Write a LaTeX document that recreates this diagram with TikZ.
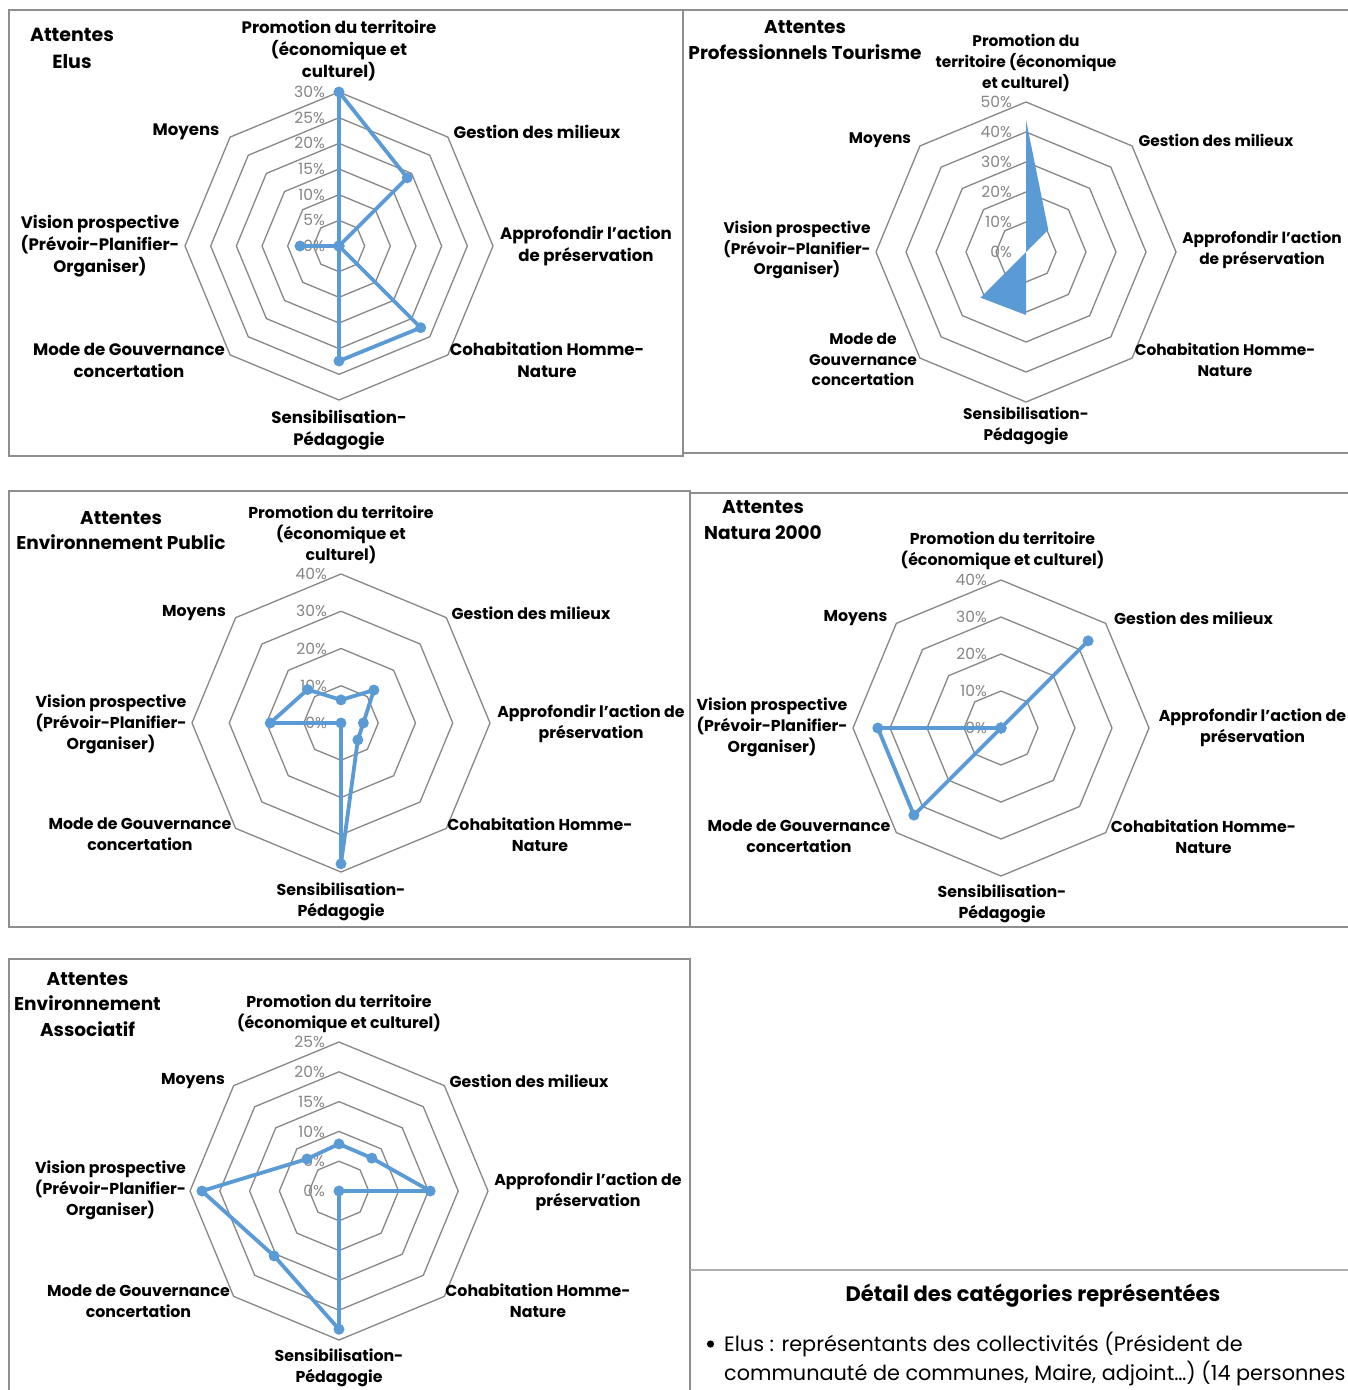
\documentclass[tikz,border=0pt]{standalone}
\usepackage{fontspec}
\setmainfont{Poppins}
\definecolor{series}{HTML}{5B9BD5}
\definecolor{gridc}{HTML}{878787}
\definecolor{framec}{HTML}{8E8E8E}
\definecolor{tickc}{HTML}{858585}
\tikzset{
  x=1pt, y=-1pt,
  gridline/.style={draw=gridc, line width=1.3pt, line join=miter},
  serie/.style={draw=series, line width=3.8pt, line join=round},
  seriefill/.style={fill=series},
  dot/.style={fill=series},
  framebox/.style={draw=framec, line width=1.5pt},
  ticklabel/.style={text=tickc, inner sep=0pt, anchor=east, font=\fontsize{15.5}{15.5}\selectfont},
  axislabel/.style={font=\bfseries\fontsize{16.6}{22}\selectfont, align=center, inner sep=0pt},
  axissmall/.style={font=\bfseries\fontsize{15.8}{21}\selectfont, align=center, inner sep=0pt},
  charttitle/.style={font=\bfseries\fontsize{18.5}{26}\selectfont, align=center, inner sep=0pt},
}
% concentric octagons: #1 cx, #2 cy, #3 outer radius, #4 number of rings
\newcommand\webgrid[4]{%
  \foreach \ri in {1,...,#4}{
    \draw[gridline] ({#1},{#2-#3*\ri/#4})
      \foreach \kk in {1,...,7}{ -- ({#1+#3*\ri/#4*sin(45*\kk)},{#2-#3*\ri/#4*cos(45*\kk)}) } -- cycle;
  }
}
% scale labels: #1 cx, #2 cy, #3 outer radius, #4 number of rings, #5 values
\newcommand\webticks[5]{%
  \foreach \tv [count=\ri from 0] in {#5}{
    \node[ticklabel] at ({#1-14},{#2-#3*\ri/#4}) {\tv\%};
  }
}
% data points: #1 name, #2 cx, #3 cy, #4 outer radius, #5 max value, #6 eight values
\newcommand\webpoints[6]{%
  \foreach \val [count=\kk from 0] in {#6}{
    \coordinate (#1-\kk) at ({#2+#4*\val/#5*sin(45*\kk)},{#3-#4*\val/#5*cos(45*\kk)});
  }
}
\newcommand\webline[1]{%
  \draw[serie] (#1-0) -- (#1-1) -- (#1-2) -- (#1-3) -- (#1-4) -- (#1-5) -- (#1-6) -- (#1-7) -- cycle;
  \foreach \kk in {0,...,7}{ \fill[dot] (#1-\kk) circle (5.5); }
}
\begin{document}
\begin{tikzpicture}
\useasboundingbox (0,0) rectangle (1348,1390);
\fill[white] (0,0) rectangle (1348,1390);

% ---------- frames ----------
\draw[framebox] (9,10) rectangle (683,456);
\draw[framebox] (683,10) rectangle (1360,453);
\draw[framebox] (9,491) rectangle (690,927);
\draw[framebox] (690,493) rectangle (1360,927);
\draw[framebox] (9,959) rectangle (690,1400);
\draw[framebox, draw=framec!70] (690,1270) -- (1360,1270);

% ---------- Elus ----------
\webgrid{339}{246}{154}{6}
\webticks{339}{246}{154}{6}{0,5,10,15,20,25,30}
\webpoints{el}{339}{246}{154}{30}{30,18.8,0,22.5,22.4,0,7.6,0}
\webline{el}
\node[charttitle, font=\bfseries\fontsize{19}{27}\selectfont] (elT) at (72,48.5) {Attentes\\Elus};
\node[axislabel] (elP) at (339,51) {Promotion du territoire\\(économique et\\culturel)};
\node[axislabel] (elG) at (537,132) {Gestion des milieux};
\node[axislabel] (elA) at (586,246) {Approfondir l'action\\de préservation};
\node[axislabel] (elC) at (547,360) {Cohabitation Homme-\\Nature};
\node[axislabel] (elS) at (339,430) {Sensibilisation-\\Pédagogie};
\node[axislabel] (elM) at (129,360) {Mode de Gouvernance\\concertation};
\node[axislabel] (elV) at (100,246) {Vision prospective\\(Prévoir-Planifier-\\Organiser)};
\node[axislabel] (elY) at (186,132) {Moyens};

% ---------- Professionnels Tourisme ----------
\webgrid{1026}{252}{150}{5}
\webticks{1026}{252}{150}{5}{0,10,20,30,40,50}
\webpoints{pt}{1026}{252}{150}{50}{44,10.5,0,0,21,21.5,0,0}
\fill[seriefill] (pt-0) -- (pt-1) -- (pt-2) -- (pt-3) -- (pt-4) -- (pt-5) -- (pt-6) -- (pt-7) -- cycle;
\node[charttitle] (ptT) at (805,40) {Attentes\\Professionnels Tourisme};
\node[axissmall, font=\bfseries\fontsize{15.4}{21}\selectfont] (ptP) at (1026,63) {Promotion du\\territoire (économique\\et culturel)};
\node[axissmall, font=\bfseries\fontsize{15.4}{21}\selectfont] (ptG) at (1216,140) {Gestion des milieux};
\node[axissmall, font=\bfseries\fontsize{15.4}{21}\selectfont] (ptA) at (1262,250) {Approfondir l'action\\de préservation};
\node[axissmall, font=\bfseries\fontsize{15.4}{21}\selectfont] (ptC) at (1225,359.5) {Cohabitation Homme-\\Nature};
\node[axissmall, font=\bfseries\fontsize{15.4}{21}\selectfont] (ptS) at (1026,426) {Sensibilisation-\\Pédagogie};
\node[axissmall, font=\bfseries\fontsize{15.4}{20.5}\selectfont] (ptM) at (863,359.5) {Mode de\\Gouvernance\\concertation};
\node[axissmall, font=\bfseries\fontsize{15.4}{20.5}\selectfont] (ptV) at (797,250) {Vision prospective\\(Prévoir-Planifier-\\Organiser)};
\node[axissmall, font=\bfseries\fontsize{15.4}{21}\selectfont] (ptY) at (880,140) {Moyens};

% ---------- Environnement Public ----------
\webgrid{341}{723}{149}{4}
\webticks{341}{723}{149}{4}{0,10,20,30,40}
\webpoints{ep}{341}{723}{149}{40}{6.2,12.5,6,6.4,37.8,0,19,12.7}
\webline{ep}
\node[charttitle, font=\bfseries\fontsize{18.5}{25}\selectfont] (epT) at (121,530.5) {Attentes\\Environnement Public};
\node[axissmall] (epP) at (341,535) {Promotion du territoire\\(économique et\\culturel)};
\node[axissmall] (epG) at (531,613) {Gestion des milieux};
\node[axissmall] (epA) at (591,723.5) {Approfondir l'action de\\préservation};
\node[axissmall] (epC) at (540,834.5) {Cohabitation Homme-\\Nature};
\node[axissmall] (epS) at (341,901.5) {Sensibilisation-\\Pédagogie};
\node[axissmall] (epM) at (140,834.5) {Mode de Gouvernance\\concertation};
\node[axissmall] (epV) at (111,724) {Vision prospective\\(Prévoir-Planifier-\\Organiser)};
\node[axissmall] (epY) at (194,613) {Moyens};

% ---------- Natura 2000 ----------
\webgrid{1001}{728}{148}{4}
\webticks{1001}{728}{148}{4}{0,10,20,30,40}
\webpoints{na}{1001}{728}{148}{40}{0,33.3,0,0,0,33.3,33.3,0}
\webline{na}
\node[charttitle] (naT) at (763,520) {Attentes\\Natura 2000};
\node[axissmall] (naP) at (1002.5,550.5) {Promotion du territoire\\(économique et culturel)};
\node[axissmall] (naG) at (1193.5,618) {Gestion des milieux};
\node[axissmall] (naA) at (1252.5,727.5) {Approfondir l'action de\\préservation};
\node[axissmall] (naC) at (1203.5,836.5) {Cohabitation Homme-\\Nature};
\node[axissmall] (naS) at (1002,904) {Sensibilisation-\\Pédagogie};
\node[axissmall] (naM) at (799,836.5) {Mode de Gouvernance\\concertation};
\node[axissmall] (naV) at (772,727.5) {Vision prospective\\(Prévoir-Planifier-\\Organiser)};
\node[axissmall] (naY) at (855.5,618) {Moyens};

% ---------- Environnement Associatif ----------
\webgrid{339}{1191}{149}{5}
\webticks{339}{1191}{149}{5}{0,5,10,15,20,25}
\webpoints{ea}{339}{1191}{149}{25}{7.9,7.8,15.3,0,23.2,15.4,23,7.6}
\webline{ea}
\node[charttitle, font=\bfseries\fontsize{18.5}{25.5}\selectfont] (eaT) at (87.5,1004.5) {Attentes\\Environnement\\Associatif};
\node[axissmall] (eaP) at (339,1013.5) {Promotion du territoire\\(économique et culturel)};
\node[axissmall] (eaG) at (529,1081) {Gestion des milieux};
\node[axissmall] (eaA) at (588,1191.5) {Approfondir l'action de\\préservation};
\node[axissmall] (eaC) at (538,1301) {Cohabitation Homme-\\Nature};
\node[axissmall] (eaS) at (339,1368) {Sensibilisation-\\Pédagogie};
\node[axissmall] (eaM) at (138.5,1301) {Mode de Gouvernance\\concertation};
\node[axissmall] (eaV) at (110.5,1190.5) {Vision prospective\\(Prévoir-Planifier-\\Organiser)};
\node[axissmall] (eaY) at (193,1081) {Moyens};

% ---------- legend text ----------
\node[font=\bfseries\fontsize{21}{24}\selectfont, inner sep=0pt] (detT) at (1033,1296) {Détail des catégories représentées};
\fill (710.5,1344) circle (3.6);
\node[font=\fontsize{20.8}{29}\selectfont, inner sep=0pt, anchor=west, align=left] (detL) at (724,1358.5)
  {Elus : représentants des collectivités (Président de\\communauté de communes, Maire, adjoint…) (14 personnes};
\end{tikzpicture}
\end{document}
